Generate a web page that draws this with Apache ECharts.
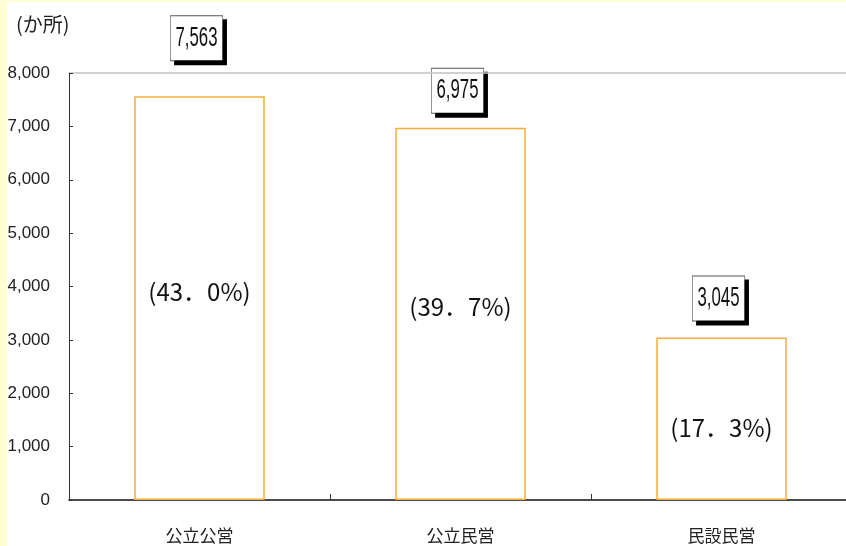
<!DOCTYPE html>
<html>
<head>
<meta charset="utf-8">
<script src="https://cdn.jsdelivr.net/npm/echarts@6/dist/echarts.min.js"></script>
<style>
  html, body { margin: 0; padding: 0; background: #FFFFD6; width: 846px; height: 546px; overflow: hidden; }
  #chart { position: absolute; left: 7px; top: 2px; width: 839px; height: 544px; background: #ffffff; }
</style>
</head>
<body>
<div id="chart"></div>
<script>
// 運営形態別の施設数と構成比
const categories = ['公立公営', '公立民営', '民設民営'];
const counts = [7563, 6975, 3045];
const shares = ['(43．0%)', '(39．7%)', '(17．3%)'];
const yTicks = [0, 1000, 2000, 3000, 4000, 5000, 6000, 7000, 8000];

const numFont = '"Liberation Sans Narrow", "Arial Narrow", "Liberation Sans", Arial, sans-serif';
const jpFont = '"Noto Sans CJK JP", "Noto Sans", sans-serif';

// label placement per bar (box gap above bar, percentage offset inside bar)
const boxDistance = [36, 15, 17];
const shareOffset = [-6, -7, 9];
// value boxes use a horizontally condensed face
const condense = 0.6;

const chart = echarts.init(document.getElementById('chart'));

chart.setOption({
  animation: false,
  backgroundColor: '#ffffff',
  title: {
    text: '(か所)',
    left: 4,
    top: 7,
    textStyle: { fontFamily: jpFont, fontSize: 20, fontWeight: 'normal', color: '#222' }
  },
  grid: { left: 62, top: 71, width: 783, bottom: 46, outerBoundsMode: 'none', containLabel: false },
  xAxis: [
    {
      type: 'category',
      data: categories,
      axisLine: { lineStyle: { color: '#111', width: 1.5 } },
      axisTick: { show: true, inside: true, length: 6, lineStyle: { color: '#333' } },
      axisLabel: { fontFamily: jpFont, fontSize: 17, color: '#222', margin: 27 }
    },
    {
      type: 'category',
      data: categories,
      position: 'top',
      axisLine: { lineStyle: { color: '#c4c4c4', width: 1.5 } },
      axisTick: { show: false },
      axisLabel: { show: false }
    }
  ],
  yAxis: {
    type: 'value',
    min: yTicks[0],
    max: yTicks[yTicks.length - 1],
    interval: 1000,
    axisLine: { show: true, lineStyle: { color: '#333', width: 1 } },
    axisTick: { show: true, inside: true, length: 4, lineStyle: { color: '#333' } },
    splitLine: { show: false },
    axisLabel: {
      fontFamily: numFont,
      fontSize: 17,
      color: '#222',
      margin: 19,
      formatter: v => v.toLocaleString('en-US')
    }
  },
  series: [
    {
      type: 'bar',
      barWidth: '50%',
      data: counts,
      itemStyle: { color: '#ffffff', borderColor: '#F9AC3A', borderWidth: 1.5 }
    },
    {
      type: 'bar',
      barWidth: '50%',
      barGap: '-100%',
      silent: true,
      data: counts.map((v, i) => ({
        value: v,
        label: { offset: [0, shareOffset[i]] }
      })),
      itemStyle: { color: 'transparent' },
      label: {
        show: true,
        position: 'inside',
        formatter: p => shares[p.dataIndex],
        fontFamily: jpFont,
        fontSize: 24,
        color: '#111'
      }
    }
  ]
});

// boxed value labels above each bar, anchored through the axis scales
const valueBoxes = counts.map((v, i) => {
  const [px, py] = chart.convertToPixel({ seriesIndex: 0 }, [i, v]);
  return {
    type: 'text',
    x: px - 3,
    y: py - boxDistance[i],
    scaleX: condense,
    silent: true,
    style: {
      text: v.toLocaleString('en-US'),
      x: 0,
      y: 0,
      align: 'center',
      verticalAlign: 'bottom',
      fontFamily: numFont,
      fontSize: 28,
      fill: '#111',
      backgroundColor: '#ffffff',
      borderColor: '#555',
      borderWidth: 1,
      padding: [8, 8, 8, 8],
      shadowColor: '#000000',
      shadowBlur: 0,
      shadowOffsetX: 4,
      shadowOffsetY: 4
    }
  };
});
chart.setOption({ graphic: valueBoxes });
</script>
</body>
</html>
